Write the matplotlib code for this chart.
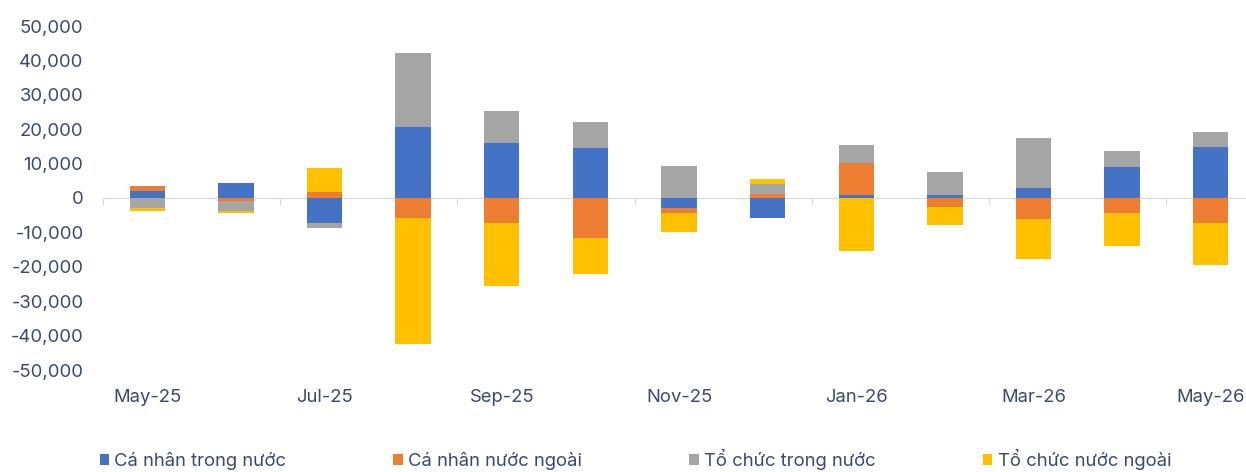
import matplotlib.pyplot as plt
import numpy as np

plt.rcParams['font.family'] = ['Inter', 'DejaVu Sans']

months = ['May-25', 'Jun-25', 'Jul-25', 'Aug-25', 'Sep-25', 'Oct-25', 'Nov-25',
          'Dec-25', 'Jan-26', 'Feb-26', 'Mar-26', 'Apr-26', 'May-26']
ca_nhan_trong_nuoc = [2000, 4450, -7350, 20700, 16000, 14450, -2800, -5700, 800, 1000, 2800, 8900, 14900]
ca_nhan_nuoc_ngoai = [1500, -1000, 1750, -5700, -7350, -11550, -1650, 1150, 9500, -2500, -6000, -4250, -7350]
to_chuc_trong_nuoc = [-3000, -2700, -1450, 21500, 9400, 7750, 9400, 3000, 5000, 6700, 14650, 4850, 4350]
to_chuc_nuoc_ngoai = [-700, -700, 7050, -36700, -18150, -10650, -5350, 1350, -15400, -5400, -11700, -9700, -12100]

series = [
    ('Cá nhân trong nước', ca_nhan_trong_nuoc, '#4472C4'),
    ('Cá nhân nước ngoài', ca_nhan_nuoc_ngoai, '#ED7D31'),
    ('Tổ chức trong nước', to_chuc_trong_nuoc, '#A5A5A5'),
    ('Tổ chức nước ngoài', to_chuc_nuoc_ngoai, '#FFC000'),
]

text_color = '#3B4A6B'
fig = plt.figure(figsize=(12.46, 4.72), dpi=100)
ax = fig.add_axes([103 / 1246, 102 / 472, 1152 / 1246, 344 / 472])

x = np.arange(len(months))
pos_bottom = np.zeros(len(months))
neg_bottom = np.zeros(len(months))
for name, vals, color in series:
    v = np.array(vals, dtype=float)
    bottom = np.where(v >= 0, pos_bottom, neg_bottom)
    ax.bar(x, v, 0.4, bottom=bottom, color=color, label=name, zorder=3)
    pos_bottom += np.clip(v, 0, None)
    neg_bottom += np.clip(v, None, 0)

ax.set_xlim(-0.5, len(months) - 0.5)
ax.set_ylim(-50000, 50000)
ax.set_yticks(np.arange(-50000, 50001, 10000))
ax.yaxis.set_major_formatter(plt.FuncFormatter(lambda v, p: f'{v:,.0f}'))
ax.tick_params(axis='y', length=0, pad=14, labelsize=13.3, labelcolor=text_color)

for s in ['top', 'right', 'left']:
    ax.spines[s].set_visible(False)
ax.spines['bottom'].set_position(('data', 0))
ax.spines['bottom'].set_color('#D9D9D9')
ax.spines['bottom'].set_zorder(2)
ax.set_xticks(np.arange(-0.5, len(months), 2))
ax.set_xticklabels([])
ax.tick_params(axis='x', length=5, color='#D9D9D9', direction='out')

sec = ax.secondary_xaxis('bottom')
sec.set_xticks(x[::2])
sec.set_xticklabels(months[::2])
sec.tick_params(length=0, pad=14, labelsize=13.3, labelcolor=text_color)
sec.spines['bottom'].set_visible(False)

leg = fig.legend(loc='center', bbox_to_anchor=(0.51, 0.027), ncol=4, frameon=False,
                 fontsize=13.3, handlelength=0.5, handleheight=0.5, handletextpad=0.3,
                 columnspacing=5.8, labelcolor=text_color)

fig.savefig('out.png', dpi=100)
